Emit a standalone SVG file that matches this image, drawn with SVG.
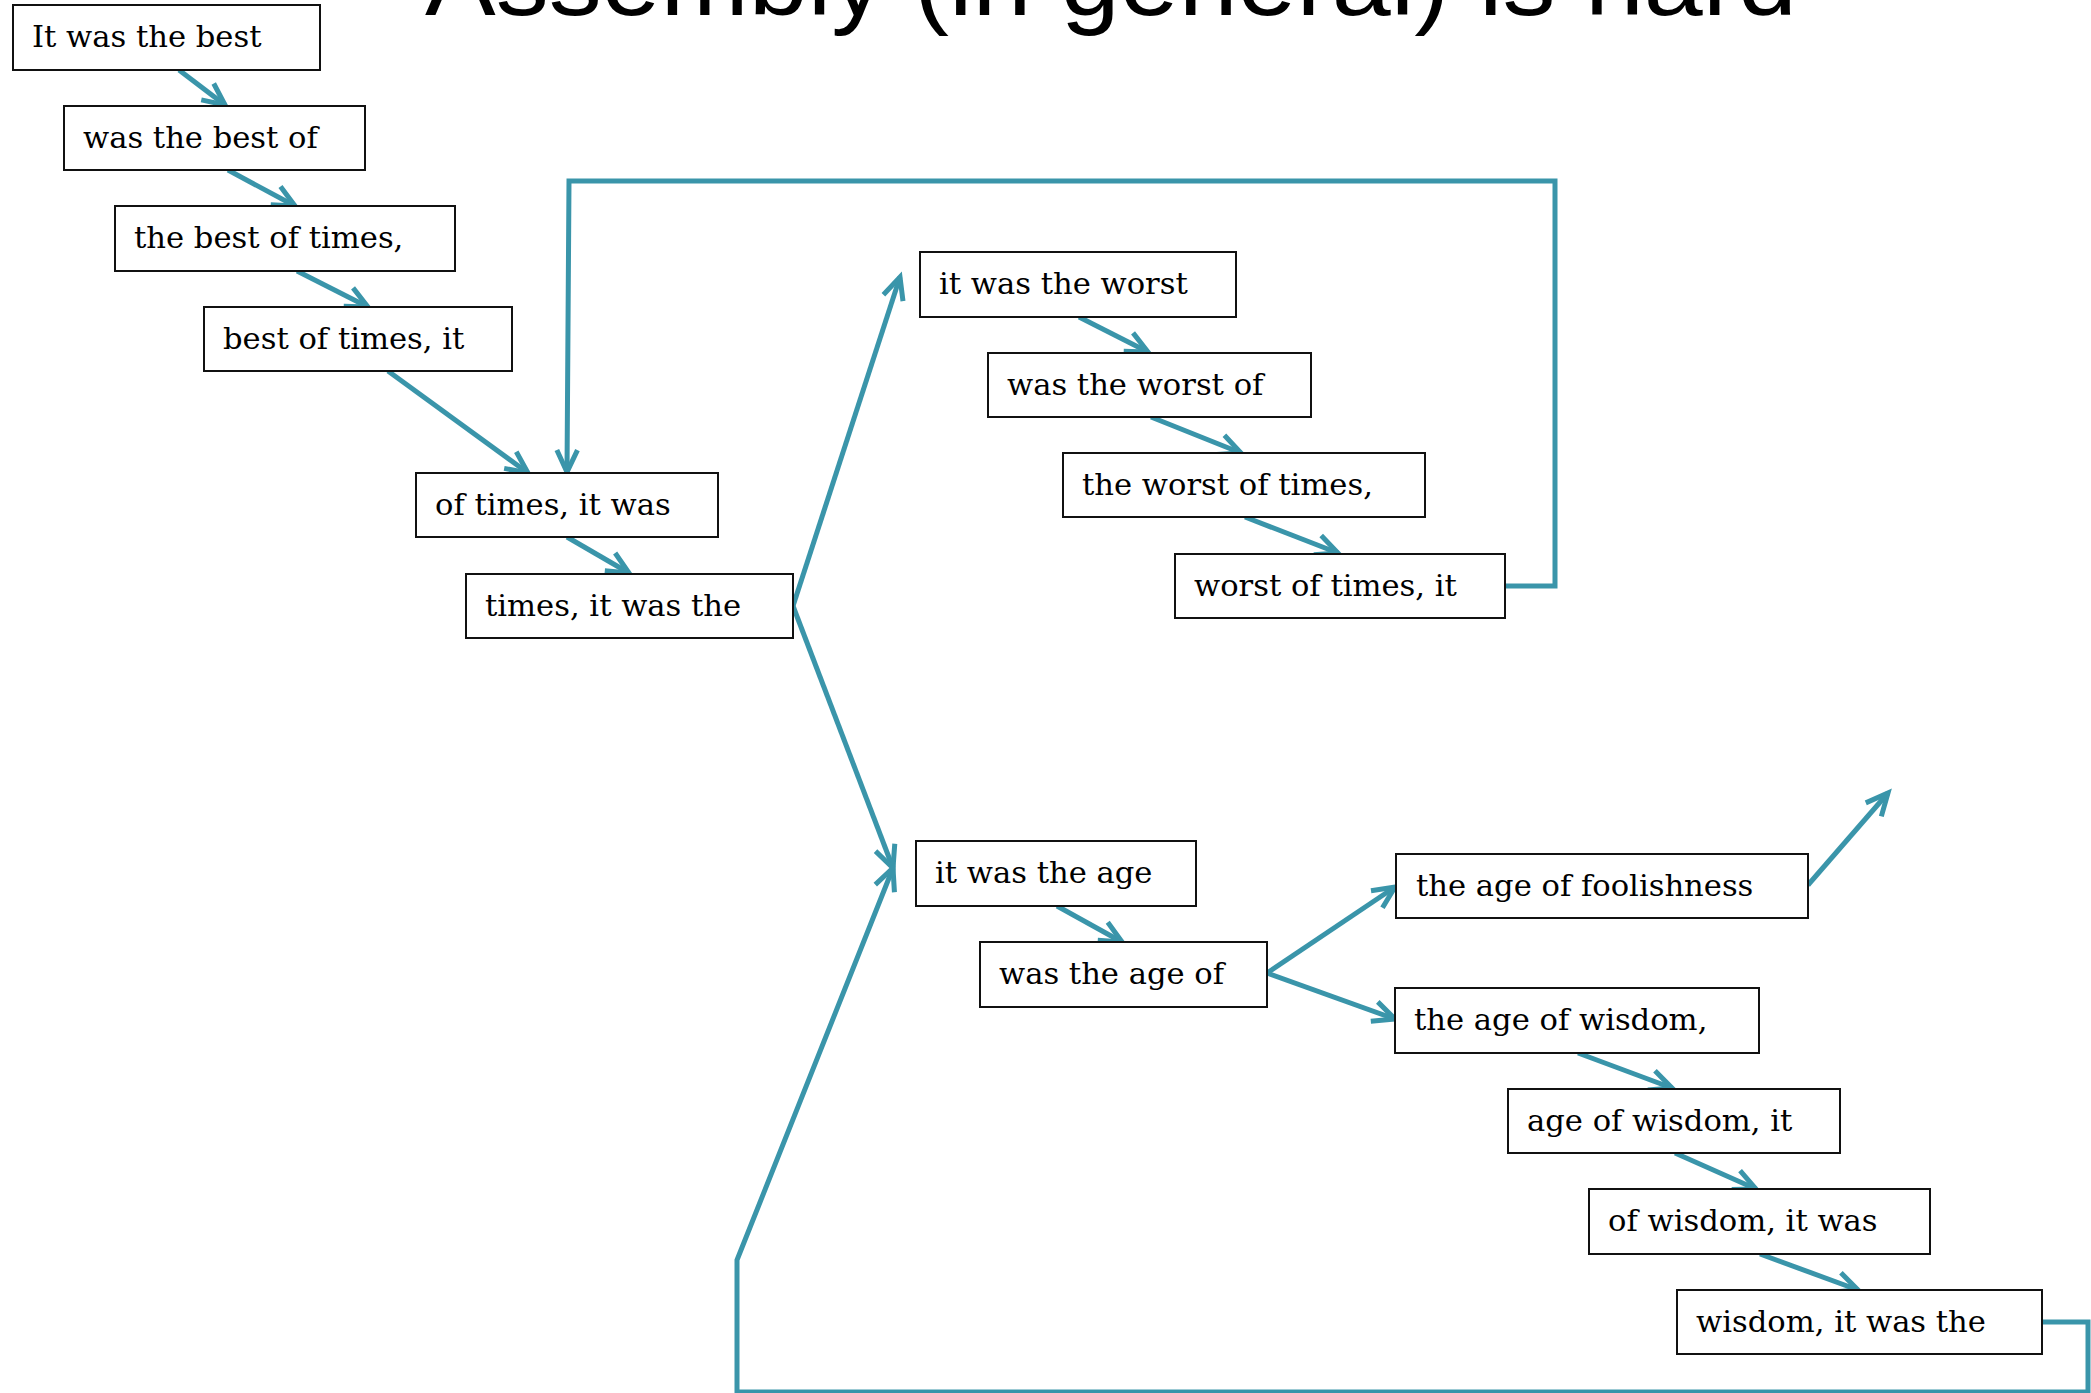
<svg xmlns="http://www.w3.org/2000/svg" width="2091" height="1393" viewBox="0 0 2091 1393">
  <defs>
    <style>
      .box rect { fill: #ffffff; stroke: #111111; stroke-width: 2; }
      .box text { font-family: "DejaVu Serif", "Liberation Serif", serif; font-size: 30.6px; fill: #000000; }
      .link { fill: none; stroke: #3a95aa; stroke-width: 5; stroke-linejoin: miter; }
      .arrow { marker-end: url(#open-arrow); }
      .title { font-family: "Liberation Sans", Arial, sans-serif; font-size: 100px; fill: #000000; }
    </style>
    <marker id="open-arrow" markerUnits="userSpaceOnUse" orient="auto" refX="0" refY="0" markerWidth="60" markerHeight="60" viewBox="-30 -30 60 60" overflow="visible">
      <path d="M -22 -10.3 L 0 0 L -22 10.3" fill="none" stroke="#3a95aa" stroke-width="5"/>
    </marker>
  </defs>

  <rect width="2091" height="1393" fill="#ffffff"/>

  <!-- slide heading, partly above the top edge -->
  <text class="title" x="425" y="15" textLength="1372" lengthAdjust="spacingAndGlyphs">Assembly (in general) is hard</text>

  <!-- connectors -->
  <g id="connectors">
    <line class="link arrow" x1="179" y1="70" x2="225" y2="105"/>
    <line class="link arrow" x1="228" y1="170" x2="295" y2="206"/>
    <line class="link arrow" x1="297" y1="271" x2="368" y2="307"/>
    <line class="link arrow" x1="388" y1="371" x2="528" y2="473"/>
    <line class="link arrow" x1="567" y1="537" x2="629" y2="573"/>
    <line class="link arrow" x1="1079" y1="317" x2="1148" y2="352"/>
    <line class="link arrow" x1="1151" y1="417" x2="1241" y2="453"/>
    <line class="link arrow" x1="1245" y1="517" x2="1338" y2="553"/>
    <line class="link arrow" x1="1057" y1="906" x2="1122" y2="942"/>
    <line class="link arrow" x1="1578" y1="1053" x2="1672" y2="1088"/>
    <line class="link arrow" x1="1675" y1="1153" x2="1756" y2="1189"/>
    <line class="link arrow" x1="1760" y1="1254" x2="1858" y2="1290"/>
    <!-- branch after "times, it was the" -->
    <line class="link arrow" x1="793" y1="606" x2="900" y2="277"/>
    <line class="link arrow" x1="793" y1="606" x2="893" y2="868"/>
    <!-- branch after "was the age of" -->
    <line class="link arrow" x1="1267" y1="973" x2="1395" y2="887"/>
    <line class="link arrow" x1="1267" y1="973" x2="1395" y2="1019"/>
    <!-- continuation out of "the age of foolishness" -->
    <line class="link arrow" x1="1808" y1="885" x2="1888" y2="793"/>
    <!-- loop back from "worst of times, it" -->
    <path class="link arrow" d="M 1505 586 H 1555 V 181 H 569 L 567 472"/>
    <!-- loop back from "wisdom, it was the" -->
    <path class="link arrow" d="M 2042 1322 H 2088 V 1392 H 737 V 1260 L 893 868"/>
  </g>

  <!-- nodes -->
  <g id="n1" class="box"><rect x="13" y="5" width="307" height="65"/><text x="32" y="47">It was the best</text></g>
  <g id="n2" class="box"><rect x="64" y="106" width="301" height="64"/><text x="83" y="148">was the best of</text></g>
  <g id="n3" class="box"><rect x="115" y="206" width="340" height="65"/><text x="134" y="248">the best of times,</text></g>
  <g id="n4" class="box"><rect x="204" y="307" width="308" height="64"/><text x="223" y="349">best of times, it</text></g>
  <g id="n5" class="box"><rect x="416" y="473" width="302" height="64"/><text x="435" y="515">of times, it was</text></g>
  <g id="n6" class="box"><rect x="466" y="574" width="327" height="64"/><text x="485" y="616">times, it was the</text></g>
  <g id="n7" class="box"><rect x="920" y="252" width="316" height="65"/><text x="939" y="294">it was the worst</text></g>
  <g id="n8" class="box"><rect x="988" y="353" width="323" height="64"/><text x="1007" y="395">was the worst of</text></g>
  <g id="n9" class="box"><rect x="1063" y="453" width="362" height="64"/><text x="1082" y="495">the worst of times,</text></g>
  <g id="n10" class="box"><rect x="1175" y="554" width="330" height="64"/><text x="1194" y="596">worst of times, it</text></g>
  <g id="n11" class="box"><rect x="916" y="841" width="280" height="65"/><text x="935" y="883">it was the age</text></g>
  <g id="n12" class="box"><rect x="980" y="942" width="287" height="65"/><text x="999" y="984">was the age of</text></g>
  <g id="n13" class="box"><rect x="1396" y="854" width="412" height="64"/><text x="1416" y="896">the age of foolishness</text></g>
  <g id="n14" class="box"><rect x="1395" y="988" width="364" height="65"/><text x="1414" y="1030">the age of wisdom,</text></g>
  <g id="n15" class="box"><rect x="1508" y="1089" width="332" height="64"/><text x="1527" y="1131">age of wisdom, it</text></g>
  <g id="n16" class="box"><rect x="1589" y="1189" width="341" height="65"/><text x="1608" y="1231">of wisdom, it was</text></g>
  <g id="n17" class="box"><rect x="1677" y="1290" width="365" height="64"/><text x="1696" y="1332">wisdom, it was the</text></g>
</svg>
